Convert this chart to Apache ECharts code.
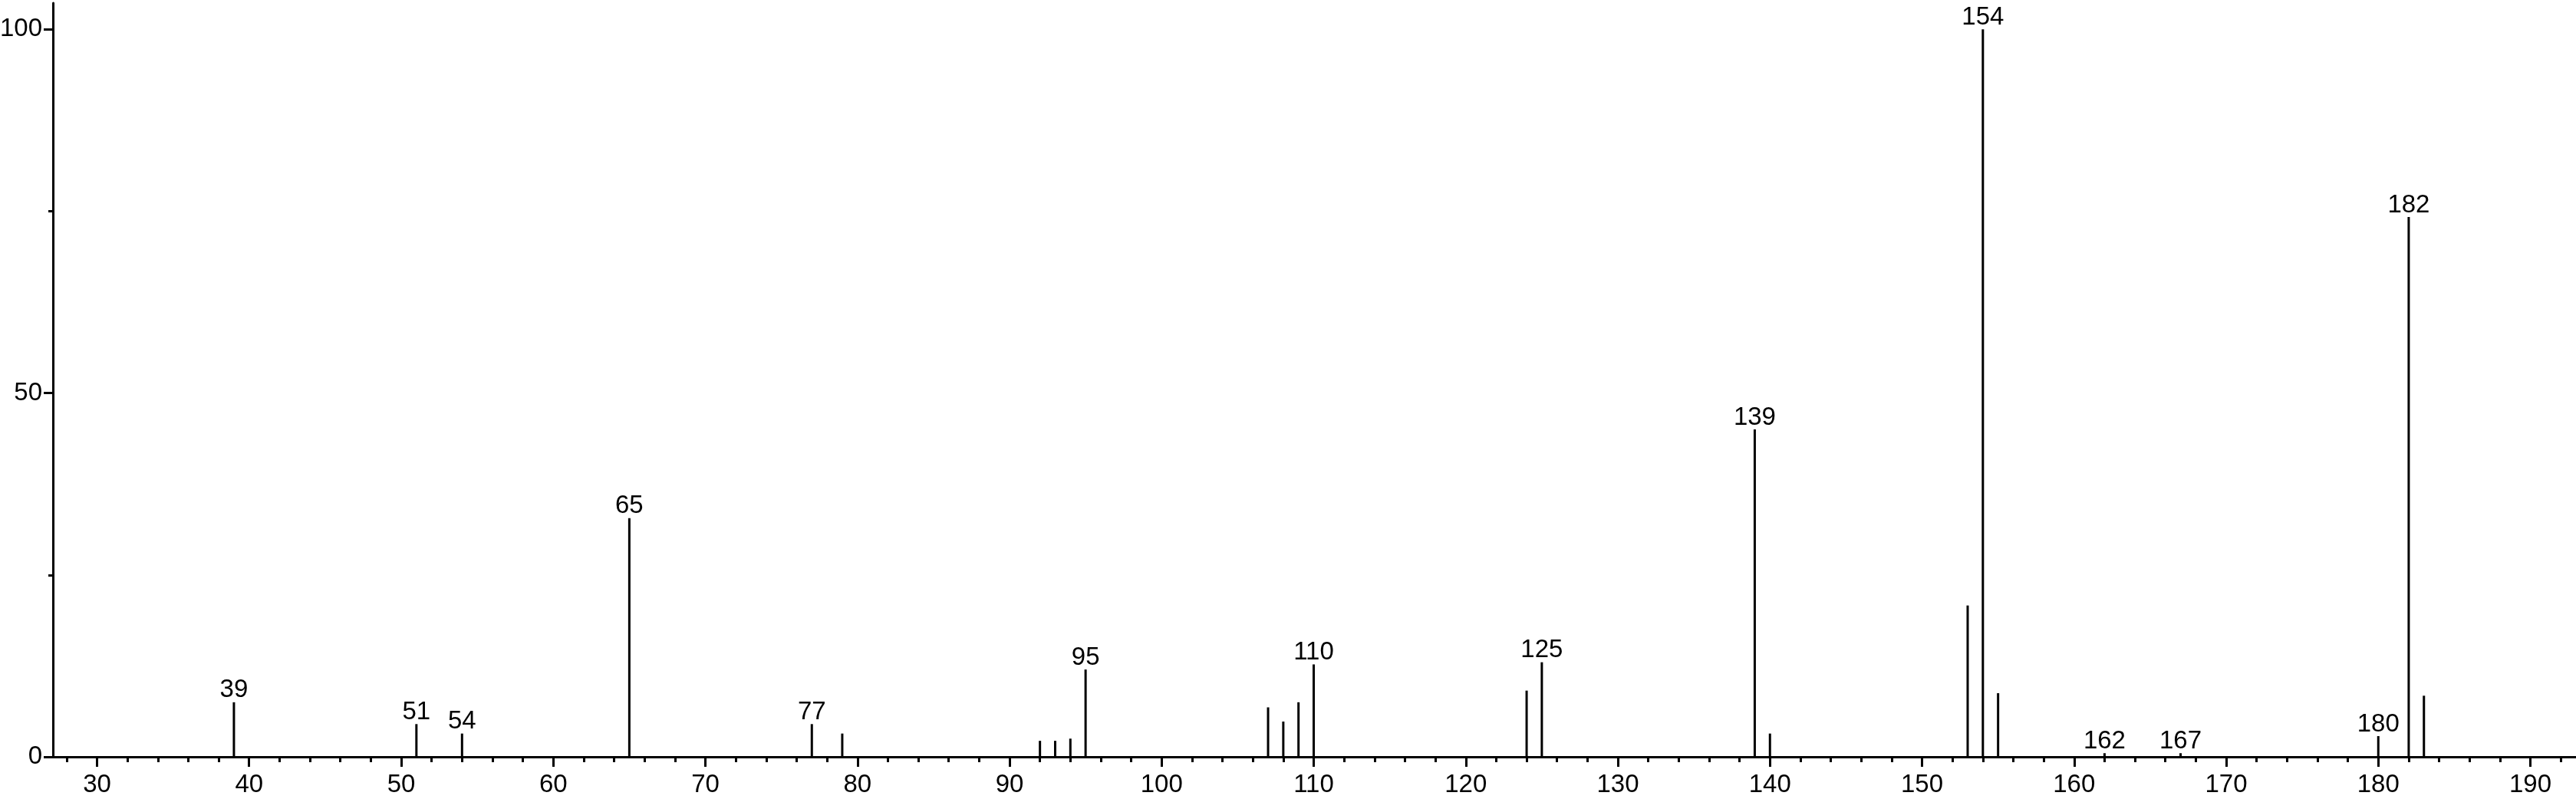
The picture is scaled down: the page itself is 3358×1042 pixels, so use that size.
<!DOCTYPE html>
<html>
<head>
<meta charset="utf-8">
<script src="https://cdn.jsdelivr.net/npm/echarts@6/dist/echarts.min.js"></script>
<style>
  html, body { margin: 0; padding: 0; background: #fff; }
  #chart { width: 3358px; height: 1042px; }
</style>
</head>
<body>
<div id="chart"></div>
<script>
// m/z of each peak and its relative intensity (%)
const mz = [39, 51, 54, 65, 77, 79, 92, 93, 94, 95, 107, 108, 109, 110, 124, 125, 139, 140, 153, 154, 155, 162, 167, 180, 182, 183]
const intensity = [7.5, 4.5, 3.2, 32.8, 4.5, 3.2, 2.2, 2.2, 2.5, 12.0, 6.8, 4.85, 7.5, 12.7, 9.1, 13.0, 45.0, 3.2, 20.8, 100, 8.75, 0.5, 0.5, 2.85, 74.2, 8.4]
// peaks that carry a m/z label
const labeledPeaks = [39, 51, 54, 65, 77, 95, 110, 125, 139, 154, 162, 167, 180, 182]

// axis ticks
const xMajorTicks = [30, 40, 50, 60, 70, 80, 90, 100, 110, 120, 130, 140, 150, 160, 170, 180, 190]
const yMajorTicks = [0, 50, 100]
const yMinorTicks = [25, 75]

const xMinorTicks = []
for (let v = 28; v <= 192; v += 2) {
  if (v % 10 !== 0) xMinorTicks.push(v)
}

const font = '"Liberation Sans", Arial, Helvetica, sans-serif'
const black = '#000'

const peakData = mz.map((m, i) => ({
  value: [m, intensity[i]],
  label: { show: labeledPeaks.includes(m) },
}))

const xRange = { min: 27.1, max: 193 }
const yRange = { min: 0, max: 103.6 }

const chart = echarts.init(document.getElementById('chart'))
chart.setOption({
  animation: false,
  backgroundColor: '#fff',
  grid: { left: 69, right: 0, top: 4, bottom: 55, containLabel: false, outerBoundsMode: 'none' },
  xAxis: [
    {
      type: 'value',
      ...xRange,
      position: 'bottom',
      splitLine: { show: false },
      axisLine: { onZero: false, lineStyle: { color: black, width: 3 } },
      axisTick: { customValues: xMajorTicks, length: 13, lineStyle: { color: black, width: 3 } },
      axisLabel: { customValues: xMajorTicks, color: black, fontSize: 33, fontFamily: font, margin: 20 },
    },
    {
      type: 'value',
      ...xRange,
      position: 'bottom',
      offset: 0,
      splitLine: { show: false },
      axisLine: { show: false },
      axisTick: { customValues: xMinorTicks, length: 7, lineStyle: { color: black, width: 3 } },
      axisLabel: { show: false },
    },
  ],
  yAxis: [
    {
      type: 'value',
      ...yRange,
      position: 'left',
      splitLine: { show: false },
      axisLine: { show: true, onZero: false, lineStyle: { color: black, width: 3 } },
      axisTick: { show: true, customValues: yMajorTicks, length: 12, lineStyle: { color: black, width: 3 } },
      axisLabel: { customValues: yMajorTicks, color: black, fontSize: 33, fontFamily: font, margin: 14 },
    },
    {
      type: 'value',
      ...yRange,
      position: 'left',
      offset: 0,
      splitLine: { show: false },
      axisLine: { show: false },
      axisTick: { show: true, customValues: yMinorTicks, length: 6, lineStyle: { color: black, width: 3 } },
      axisLabel: { show: false },
    },
  ],
  series: [
    {
      type: 'bar',
      xAxisIndex: 0,
      yAxisIndex: 0,
      barWidth: 3,
      itemStyle: { color: black },
      label: {
        position: 'top',
        distance: -1,
        color: black,
        fontSize: 33,
        fontFamily: font,
        formatter: (p) => p.value[0],
      },
      data: peakData,
    },
  ],
})
</script>
</body>
</html>
